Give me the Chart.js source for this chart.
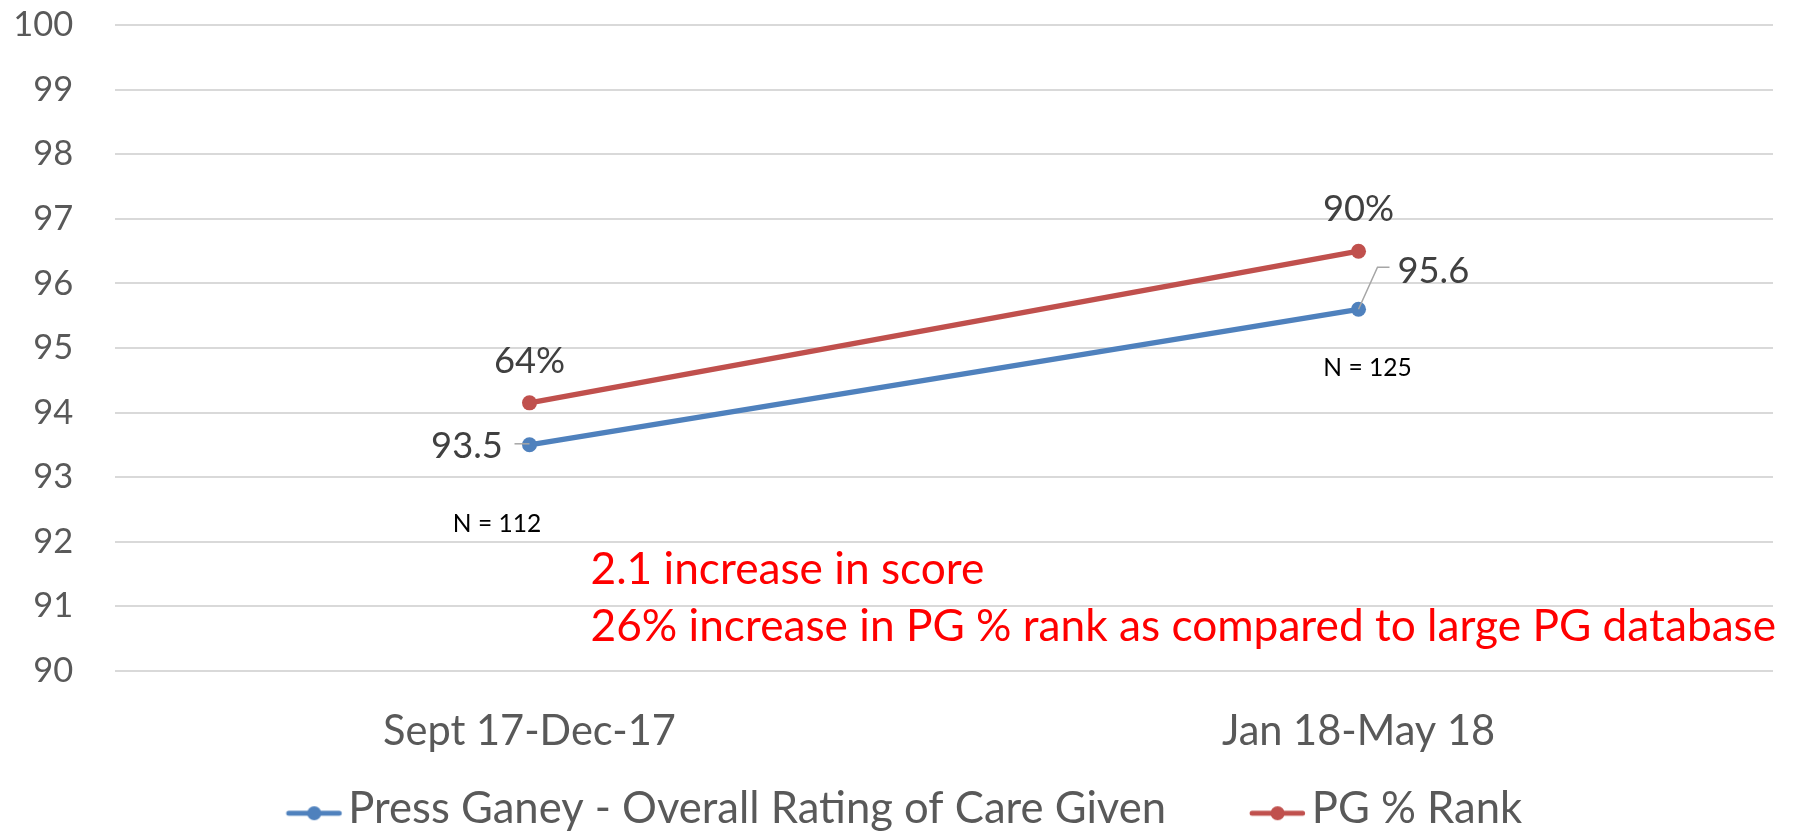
<!DOCTYPE html>
<html>
<head>
<meta charset="utf-8">
<script src="https://cdn.jsdelivr.net/npm/chart.js@4.4.0/dist/chart.umd.min.js"></script>
<style>
html,body{margin:0;padding:0;background:#ffffff;overflow:hidden}
#wrap{width:1797px;height:835px;position:relative}
</style>
</head>
<body>
<div id="wrap"><canvas id="c" width="1797" height="835"></canvas></div>
<script>
// ---- data ----
const categories = ["Sept 17-Dec-17", "Jan 18-May 18"];
const seriesNames = ["Press Ganey - Overall Rating of Care Given", "PG % Rank"];
const ratingValues = [93.5, 95.6];
const rankValues = [94.15, 96.5];
const ratingLabels = ["93.5", "95.6"];
const rankLabels = ["64%", "90%"];
const sampleLabels = ["N = 112", "N = 125"];
const noteLines = ["2.1 increase in score", "26% increase in PG % rank as compared to large PG database"];
const yMin = 90, yMax = 100, yStep = 1;

// ---- styles ----
const FONT = "Lato";
const BLUE = "#4f81bd";
const RED = "#c0504d";
const AXIS_TEXT = "#595959";
const LABEL_TEXT = "#404040";
const GRID = "#d9d9d9";

const mctx = document.createElement("canvas").getContext("2d");
function fitSize(text, target) {
  mctx.font = "40px " + FONT;
  return 40 * target / mctx.measureText(text).width;
}
function textW(text, size) {
  mctx.font = size + "px " + FONT;
  return mctx.measureText(text).width;
}
// distance from the 'middle' baseline down to the alphabetic baseline
function midToBase(size) {
  mctx.font = size + "px " + FONT;
  mctx.textBaseline = "middle";
  const d = mctx.measureText("H").actualBoundingBoxDescent;
  mctx.textBaseline = "alphabetic";
  return d;
}

const tickSize = fitSize("100", 60);
const catSize = fitSize(categories[0], 293);
const legSize = fitSize(seriesNames[0], 818);
const valSize = fitSize(ratingLabels[0], 71.7);
const nSize = fitSize(sampleLabels[0], 88.3);
const noteSize = fitSize(noteLines[1], 1186);

// ---- layout geometry (pixels) ----
const W = 1797, H = 835;
const areaTop = 25.3, areaBottom = 670.7, areaLeft = 115, areaRight = 1773;
const tickRight = 73.3;
const catBaseline = 745;
const legBaseline = 823.3;
const legText1 = 348.3, legText2 = 1311.7;

const t1 = textW(seriesNames[0], legSize);
const t2 = textW(seriesNames[1], legSize);
const legPad = 10;
const padLeft = legText1 * 2 + legPad + t1 + t2 - areaRight;     // centres legend where needed
const boxW = legText2 - legText1 - t1 - legPad - legSize / 2;
const legMid = legBaseline - midToBase(legSize);
const legHeight = legSize + legPad + 10;
const legTop = legMid - legPad - legSize / 2;
const padBottom = H - legTop - legHeight;
const xAxisHeight = legTop - areaBottom;
const catMid = catBaseline - midToBase(catSize);
const catPadding = catMid - areaBottom - 0.6 * catSize;

function makeMarker(color) {
  const cw = Math.max(2 * (boxW / 2 + legSize / 2 - 6.6) + 2, 60);
  const cv = document.createElement("canvas");
  cv.width = Math.round(cw); cv.height = 24;
  const g = cv.getContext("2d");
  const right = cv.width / 2 + boxW / 2 + legSize / 2 - 6.6;
  const cy = 12 + (813.3 - legMid);
  g.strokeStyle = color; g.lineWidth = 5; g.lineCap = "round";
  g.beginPath(); g.moveTo(right - 53, cy); g.lineTo(right - 2.5, cy); g.stroke();
  g.fillStyle = color;
  g.beginPath(); g.arc(right - 27.5, cy, 7, 0, Math.PI * 2); g.fill();
  return cv;
}
const markers = [makeMarker(BLUE), makeMarker(RED)];

const labelPlugin = {
  id: "labelPlugin",
  afterDatasetsDraw(chart) {
    const ctx = chart.ctx;
    const blue = chart.getDatasetMeta(0).data;
    const red = chart.getDatasetMeta(1).data;
    const ys = chart.scales.y;
    ctx.save();
    ctx.textBaseline = "alphabetic";
    ctx.font = valSize.toFixed(2) + "px " + FONT;
    ctx.fillStyle = LABEL_TEXT;
    ctx.textAlign = "center";
    red.forEach((p, i) => ctx.fillText(rankLabels[i], p.x, p.y - 30));
    ctx.strokeStyle = "#a6a6a6";
    ctx.lineWidth = 1.5;
    const p0 = blue[0], p1 = blue[1];
    ctx.beginPath(); ctx.moveTo(p0.x - 15, p0.y - 1); ctx.lineTo(p0.x, p0.y - 1); ctx.stroke();
    ctx.textAlign = "right";
    ctx.fillText(ratingLabels[0], p0.x - 26.7, p0.y + 13.3);
    ctx.beginPath(); ctx.moveTo(p1.x, p1.y); ctx.lineTo(p1.x + 19, p1.y - 42); ctx.lineTo(p1.x + 31, p1.y - 42); ctx.stroke();
    ctx.textAlign = "left";
    ctx.fillText(ratingLabels[1], p1.x + 39, p1.y - 26.6);
    ctx.font = nSize.toFixed(2) + "px " + FONT;
    ctx.fillStyle = "#000000";
    ctx.textAlign = "center";
    ctx.fillText(sampleLabels[0], p0.x - 32.5, p0.y + 86.7);
    ctx.fillText(sampleLabels[1], p1.x + 9, p1.y + 66.7);
    ctx.font = noteSize.toFixed(2) + "px " + FONT;
    ctx.fillStyle = "#ff0000";
    ctx.textAlign = "left";
    ctx.fillText(noteLines[0], p0.x + 61, ys.getPixelForValue(91.34));
    ctx.fillText(noteLines[1], p0.x + 61, ys.getPixelForValue(90.46));
    ctx.restore();
  }
};

Chart.defaults.font.family = FONT;

new Chart(document.getElementById("c"), {
  type: "line",
  data: {
    labels: categories,
    datasets: [
      { label: seriesNames[0], data: ratingValues, borderColor: BLUE, backgroundColor: BLUE,
        borderWidth: 5.3, pointRadius: 7.5, pointHoverRadius: 7.5, pointBorderWidth: 0,
        pointBackgroundColor: BLUE, tension: 0, fill: false },
      { label: seriesNames[1], data: rankValues, borderColor: RED, backgroundColor: RED,
        borderWidth: 5.3, pointRadius: 7.5, pointHoverRadius: 7.5, pointBorderWidth: 0,
        pointBackgroundColor: RED, tension: 0, fill: false }
    ]
  },
  options: {
    responsive: false,
    animation: false,
    devicePixelRatio: 1,
    layout: { padding: { top: areaTop, right: W - areaRight, left: padLeft, bottom: padBottom } },
    scales: {
      x: {
        offset: true,
        grid: { display: false, drawTicks: false },
        border: { display: false },
        ticks: { color: AXIS_TEXT, font: { size: catSize, family: FONT }, padding: catPadding, maxRotation: 0, autoSkip: false },
        afterFit(s) { s.height = xAxisHeight; s.paddingLeft = 0; s.paddingRight = 0; }
      },
      y: {
        min: yMin, max: yMax,
        grid: { color: GRID, lineWidth: 2, drawTicks: false },
        border: { display: false },
        ticks: { stepSize: yStep, color: AXIS_TEXT, font: { size: tickSize, family: FONT }, padding: areaLeft - tickRight },
        afterFit(s) { s.width = areaLeft - padLeft; s.paddingTop = 0; s.paddingBottom = 0; }
      }
    },
    plugins: {
      tooltip: { enabled: false },
      legend: {
        position: "bottom",
        labels: {
          usePointStyle: true,
          pointStyleWidth: boxW,
          boxWidth: boxW,
          padding: legPad,
          color: AXIS_TEXT,
          font: { size: legSize, family: FONT },
          generateLabels(chart) {
            const items = Chart.defaults.plugins.legend.labels.generateLabels(chart);
            return items.map((it, i) => Object.assign(it, { pointStyle: markers[i] }));
          }
        }
      }
    }
  },
  plugins: [labelPlugin]
});
</script>
</body>
</html>
